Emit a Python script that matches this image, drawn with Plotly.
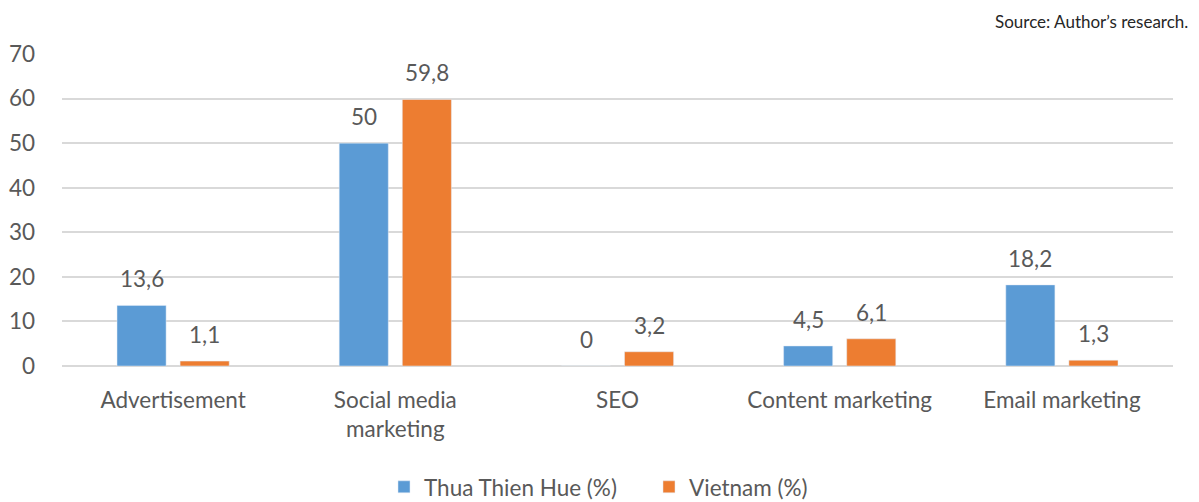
import plotly.graph_objects as go

categories = ["Advertisement", "Social media<br>marketing", "SEO", "Content marketing", "Email marketing"]
hue_values = [13.6, 50, 0, 4.5, 18.2]
vietnam_values = [1.1, 59.8, 3.2, 6.1, 1.3]
series_names = ["Thua Thien Hue (%)", "Vietnam (%)"]
y_ticks = [0, 10, 20, 30, 40, 50, 60, 70]

BLUE = "#5B9BD5"
ORANGE = "#ED7D31"
TEXT = "#595959"
GRID = "#D9D9D9"
FONT = "Lato"
FS = 22.5

# page body has an 8px margin; figure is sized to fill the remaining window
W, H = 1191, 494


def fmt(v):
    return f"{v:g}".replace(".", ",")


fig = go.Figure()
fig.add_trace(go.Bar(x=categories, y=hue_values, name=series_names[0], marker_color=BLUE))
fig.add_trace(go.Bar(x=categories, y=vietnam_values, name=series_names[1], marker_color=ORANGE))

annotations = []
for vals, shift in ((hue_values, -31.5), (vietnam_values, 31.5)):
    for c, v in zip(categories, vals):
        annotations.append(dict(x=c, y=v, xref="x", yref="y", text=fmt(v), showarrow=False,
                                xshift=shift, yanchor="bottom", yshift=11,
                                font=dict(family=FONT, size=FS, color=TEXT)))
annotations.append(dict(x=1.015, y=1.103, xref="paper", yref="paper", text="Source: Author’s research.",
                        showarrow=False, xanchor="right", yanchor="middle",
                        font=dict(family=FONT, size=17, color="#262626")))

fig.update_layout(
    width=W, height=H,
    margin=dict(l=54, r=26, t=46, b=136),
    paper_bgcolor="white", plot_bgcolor="white",
    barmode="group", bargap=0.432, bargroupgap=0.222,
    font=dict(family=FONT, size=FS, color=TEXT),
    legend=dict(orientation="h", xref="container", yref="container", x=0.3157, y=0.03,
                xanchor="left", yanchor="middle", font=dict(size=FS, color=TEXT),
                itemwidth=30, tracegroupgap=0, entrywidth=220),
    annotations=annotations,
)
fig.update_xaxes(showgrid=False, showline=False, ticks="", ticklabelstandoff=18, automargin=False,
                 tickfont=dict(family=FONT, size=FS, color=TEXT))
fig.update_yaxes(range=[0, 70], tickvals=y_ticks, showgrid=True, gridcolor=GRID, gridwidth=1.5,
                 zeroline=True, zerolinecolor=GRID, zerolinewidth=1.5, showline=False,
                 automargin=False, ticklabelstandoff=26, tickfont=dict(family=FONT, size=FS, color=TEXT))

fig.write_html("out.html")
